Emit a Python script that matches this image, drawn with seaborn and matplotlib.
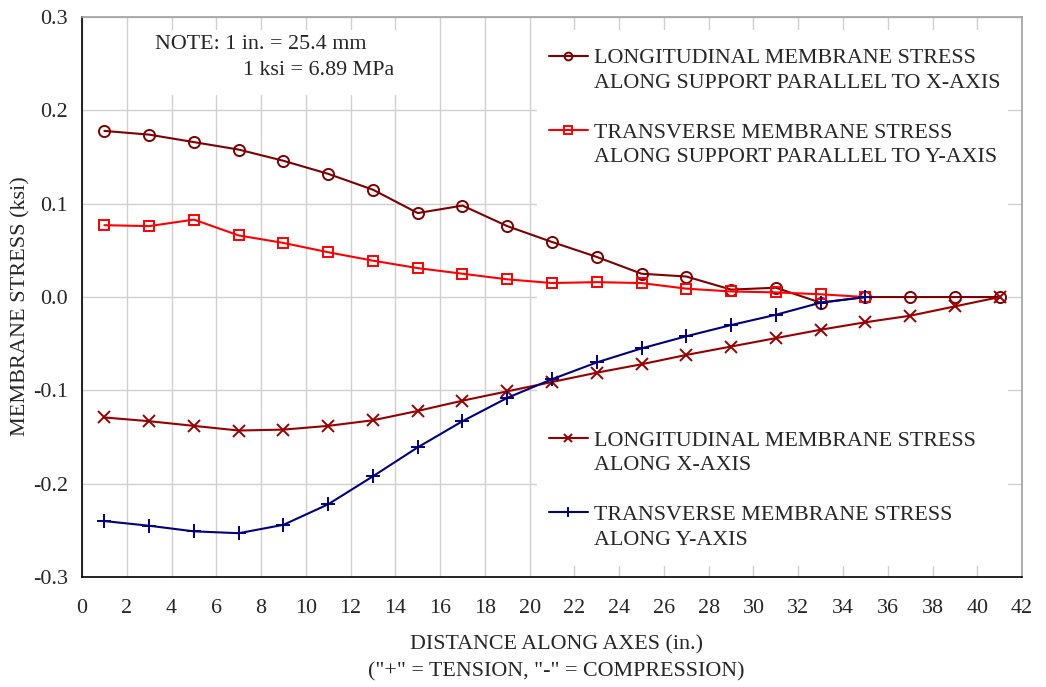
import matplotlib
matplotlib.use("Agg")
import matplotlib.pyplot as plt
import matplotlib.patches as mpatches
from matplotlib.lines import Line2D
from matplotlib.ticker import FormatStrFormatter
import seaborn as sns
import pandas as pd

# ---- data ----
x_long_support = [1, 3, 5, 7, 9, 11, 13, 15, 17, 19, 21, 23, 25, 27, 29, 31, 33, 35, 37, 39, 41]
long_support = [0.178, 0.174, 0.166, 0.158, 0.146, 0.132, 0.115, 0.090, 0.098, 0.076, 0.059,
                0.043, 0.025, 0.022, 0.008, 0.010, -0.006, 0.0, 0.0, 0.0, 0.0]

x_trans_support = [1, 3, 5, 7, 9, 11, 13, 15, 17, 19, 21, 23, 25, 27, 29, 31, 33, 35]
trans_support = [0.077, 0.076, 0.083, 0.066, 0.058, 0.048, 0.039, 0.031, 0.025, 0.019, 0.015,
                 0.016, 0.015, 0.009, 0.006, 0.005, 0.003, 0.0]

x_long_xaxis = [1, 3, 5, 7, 9, 11, 13, 15, 17, 19, 21, 23, 25, 27, 29, 31, 33, 35, 37, 39, 41]
long_xaxis = [-0.129, -0.133, -0.138, -0.143, -0.142, -0.138, -0.132, -0.122, -0.111, -0.101, -0.091,
              -0.081, -0.072, -0.062, -0.053, -0.044, -0.035, -0.027, -0.020, -0.010, 0.0]

x_trans_yaxis = [1, 3, 5, 7, 9, 11, 13, 15, 17, 19, 21, 23, 25, 27, 29, 31, 33, 35]
trans_yaxis = [-0.240, -0.245, -0.251, -0.253, -0.244, -0.222, -0.192, -0.161, -0.133, -0.108, -0.088,
               -0.070, -0.055, -0.042, -0.030, -0.019, -0.006, 0.0]

labels = [
    ("LONGITUDINAL MEMBRANE STRESS", "ALONG SUPPORT PARALLEL TO X-AXIS"),
    ("TRANSVERSE MEMBRANE STRESS", "ALONG SUPPORT PARALLEL TO Y-AXIS"),
    ("LONGITUDINAL MEMBRANE STRESS", "ALONG X-AXIS"),
    ("TRANSVERSE MEMBRANE STRESS", "ALONG Y-AXIS"),
]
x_ticks = list(range(0, 43, 2))
y_ticks = [-0.3, -0.2, -0.1, 0.0, 0.1, 0.2, 0.3]

# ---- style ----
sns.set_style("white")
plt.rcParams["font.family"] = ["Liberation Serif", "DejaVu Serif"]
plt.rcParams["axes.unicode_minus"] = False
FS = 15.8

fig = plt.figure(figsize=(10.46, 6.87), dpi=100)
ax = fig.add_axes([0.0784, 0.160, 0.8987, 0.8152])

grid_c = "#d0d0d0"
ax.set_xlim(0, 42)
ax.set_ylim(-0.3, 0.3)
ax.set_xticks(x_ticks)
ax.set_yticks(y_ticks)
ax.yaxis.set_major_formatter(FormatStrFormatter("%.1f"))
ax.grid(True, color=grid_c, linewidth=1.0)
ax.set_axisbelow(True)

# white areas that hide gridlines (note box and legend area)
ax.add_patch(mpatches.Rectangle((0.072, 0.861), 0.288, 0.116, transform=ax.transAxes,
                                facecolor="white", edgecolor="none", zorder=0.6))
ax.add_patch(mpatches.Rectangle((0.484, 0.020), 0.501, 0.957, transform=ax.transAxes,
                                facecolor="white", edgecolor="none", zorder=0.6))

series = [
    (x_long_support, long_support, "#800000", "o", 8),
    (x_trans_support, trans_support, "#ff0000", "s", 7.5),
    (x_long_xaxis, long_xaxis, "#990000", "x", 8),
    (x_trans_yaxis, trans_yaxis, "#000080", "+", 10),
]
handles = []
for (xs, ys, c, m, ms), lab in zip(series, labels):
    df = pd.DataFrame({"x": xs, "y": ys})
    sns.lineplot(data=df, x="x", y="y", ax=ax, color=c, marker=m, markersize=ms,
                 markerfacecolor="none", markeredgecolor=c, markeredgewidth=1.4,
                 linewidth=1.5, legend=False, zorder=3)
    handles.append(ax.lines[-1])

ax.set_xlabel("")
ax.set_ylabel("")

for sp in ["left", "bottom"]:
    ax.spines[sp].set_color("black")
    ax.spines[sp].set_linewidth(1.2)
for sp in ["top", "right"]:
    ax.spines[sp].set_color("#a0a0a0")
    ax.spines[sp].set_linewidth(1.2)

ax.tick_params(axis="both", direction="in", length=5, width=1, color="black", labelsize=FS)
ax.tick_params(axis="x", pad=16)
ax.tick_params(axis="y", pad=10)

blank = Line2D([], [], linestyle="none", marker="")


def make_legend(hs, labs, anchor):
    hh, ll = [], []
    for i, (h, (a, b)) in enumerate(zip(hs, labs)):
        if i > 0:
            hh.append(blank)
            ll.append(" ")
        hh += [h, blank]
        ll += [a, b]
    return ax.legend(handles=hh, labels=ll, bbox_to_anchor=anchor, loc="upper left",
                     frameon=False, fontsize=FS, handlelength=1.75, handletextpad=0.3,
                     labelspacing=0.2, markerscale=0.7, borderpad=0, borderaxespad=0)


leg1 = make_legend(handles[:2], labels[:2], (0.497, 0.9445))
ax.add_artist(leg1)
leg2 = make_legend(handles[2:], labels[2:], (0.497, 0.262))

# note
ax.text(0.078, 0.951, "NOTE: 1 in. = 25.4 mm", transform=ax.transAxes, fontsize=FS,
        ha="left", va="center")
ax.text(0.171, 0.905, "1 ksi = 6.89 MPa", transform=ax.transAxes, fontsize=FS,
        ha="left", va="center")

# axis labels
fig.text(556 / 1046, 1 - 645 / 687, "DISTANCE ALONG AXES (in.)", fontsize=FS, ha="center", va="center")
fig.text(556 / 1046, 1 - 672 / 687, '("+" = TENSION, "-" = COMPRESSION)', fontsize=FS,
         ha="center", va="center")
fig.text(21 / 1046, 1 - 306 / 687, "MEMBRANE STRESS (ksi)", fontsize=16, rotation=90,
         ha="center", va="center")

fig.savefig("out.png", dpi=100)
